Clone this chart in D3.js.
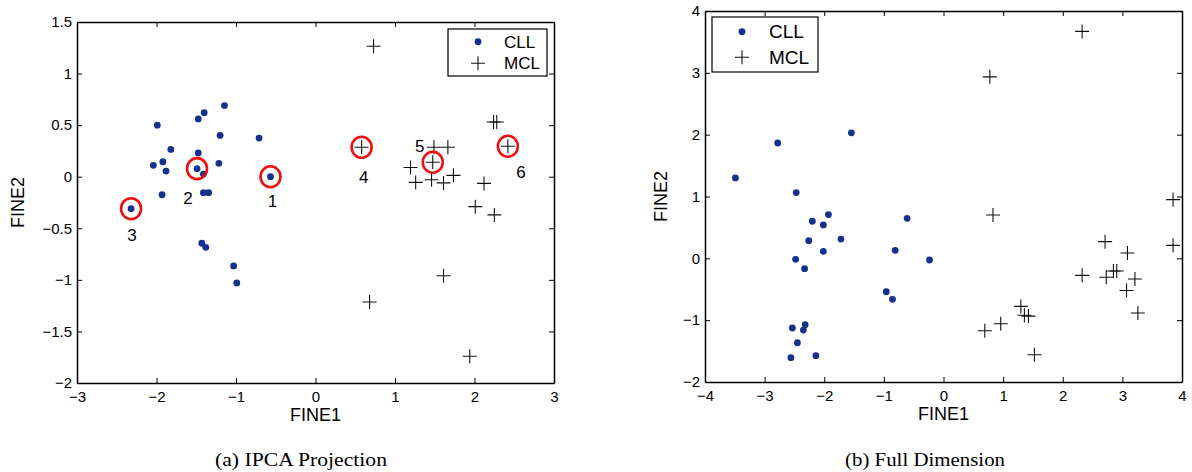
<!DOCTYPE html>
<html><head><meta charset="utf-8">
<script src="https://cdn.jsdelivr.net/npm/d3@7"></script>
<style>body{margin:0;background:#fff;}svg{display:block;}</style>
</head><body>
<svg id="chart" width="1192" height="472"></svg>
<script>
// ---- Data ----
// (a) IPCA Projection
const ipcaCLL_x = [-1.99,-1.145,-1.40,-1.475,-1.20,-0.71,-1.82,-1.475,-2.04,-1.92,-1.88,-1.215,-1.49,-1.41,-0.566,-1.93,-1.41,-1.345,-2.32,-1.43,-1.38,-1.03,-0.99];
const ipcaCLL_y = [0.50,0.69,0.62,0.56,0.40,0.375,0.265,0.23,0.11,0.145,0.055,0.13,0.078,0.026,0.0,-0.175,-0.155,-0.155,-0.31,-0.645,-0.685,-0.865,-1.03];
const ipcaMCL_x = [0.73,0.58,1.49,1.665,1.475,1.195,1.735,1.26,1.46,1.61,2.12,2.24,2.28,2.42,2.01,2.25,1.61,0.68,1.94];
const ipcaMCL_y = [1.265,0.285,0.285,0.285,0.14,0.09,0.013,-0.055,-0.03,-0.06,-0.065,0.53,0.53,0.295,-0.29,-0.37,-0.96,-1.215,-1.74];
// highlighted samples (circled) in panel (a)
const markLabels = ["1","2","3","4","5","6"];
const markX = [-0.566,-1.49,-2.32,0.58,1.475,2.42];
const markY = [0.0,0.078,-0.31,0.285,0.14,0.295];
// (b) Full Dimension
const fullCLL_x = [-3.49,-2.78,-1.545,-2.47,-2.20,-1.93,-2.015,-0.61,-2.26,-1.72,-2.015,-0.81,-2.48,-2.33,-0.96,-0.855,-2.32,-2.535,-2.35,-2.45,-2.14,-2.56,-0.234];
const fullCLL_y = [1.30,1.865,2.03,1.063,0.60,0.707,0.54,0.647,0.286,0.312,0.113,0.13,-0.016,-0.167,-0.54,-0.663,-1.073,-1.127,-1.16,-1.365,-1.575,-1.607,-0.027];
const fullMCL_x = [2.325,0.777,3.85,0.83,3.85,2.71,3.085,2.325,2.73,2.85,2.905,3.21,3.07,3.26,1.297,1.357,1.425,0.96,0.693,1.525];
const fullMCL_y = [3.67,2.935,0.95,0.70,0.21,0.27,0.086,-0.275,-0.307,-0.205,-0.205,-0.335,-0.52,-0.885,-0.777,-0.92,-0.934,-1.057,-1.17,-1.56];
// tick labels
const ipcaXTicks = [-3,-2,-1,0,1,2,3];
const ipcaYTicks = [-2,-1.5,-1,-0.5,0,0.5,1,1.5];
const fullXTicks = [-4,-3,-2,-1,0,1,2,3,4];
const fullYTicks = [-2,-1,0,1,2,3,4];
const seriesNames = ["CLL","MCL"];
const axisTitles = ["FINE1","FINE2"];
const captions = ["(a)  IPCA Projection","(b)  Full Dimension"];

// ---- layout (not data) ----
const labelOffsets = [[2,24],[-9,29],[1,26],[2,30],[-13,-16],[13,26]];

const svg = d3.select("#chart");
const blue = "#15318f";
const font = "'Liberation Sans', Arial, Helvetica, sans-serif";

function panel(cfg){
  const g = svg.append("g");
  const x = d3.scaleLinear().domain(cfg.xd).range([cfg.l, cfg.r]);
  const y = d3.scaleLinear().domain(cfg.yd).range([cfg.b, cfg.t]);
  const tl = 5;
  const fmt = d => (d<0 ? "\u2212"+String(Math.abs(d)) : String(d));
  const bottom = g.append("g").attr("transform",`translate(0,${cfg.b})`)
    .call(d3.axisBottom(x).tickValues(cfg.xt).tickSizeInner(-tl).tickSizeOuter(0).tickPadding(8).tickFormat(fmt));
  const top = g.append("g").attr("transform",`translate(0,${cfg.t})`)
    .call(d3.axisTop(x).tickValues(cfg.xt).tickSizeInner(-tl).tickSizeOuter(0).tickFormat(""));
  const left = g.append("g").attr("transform",`translate(${cfg.l},0)`)
    .call(d3.axisLeft(y).tickValues(cfg.yt).tickSizeInner(-tl).tickSizeOuter(0).tickPadding(5).tickFormat(fmt));
  const right = g.append("g").attr("transform",`translate(${cfg.r},0)`)
    .call(d3.axisRight(y).tickValues(cfg.yt).tickSizeInner(-tl).tickSizeOuter(0).tickFormat(""));
  [bottom,top,left,right].forEach(a=>{
    a.selectAll("path.domain").attr("stroke","#000").attr("stroke-width",1.5);
    a.selectAll(".tick line").attr("stroke","#000").attr("stroke-width",1);
    a.selectAll("text").attr("font-family",font).attr("font-size",cfg.fs).attr("fill","#000");
  });
  bottom.selectAll("text").attr("dy","0.71em");
  g.append("text").attr("x",(cfg.l+cfg.r)/2).attr("y",cfg.b+38).attr("text-anchor","middle")
    .attr("font-family",font).attr("font-size",cfg.fs+3).text(axisTitles[0]);
  g.append("text").attr("transform",`translate(${cfg.yl},${(cfg.t+cfg.b)/2}) rotate(-90)`)
    .attr("text-anchor","middle").attr("font-family",font).attr("font-size",cfg.fs+3).text(axisTitles[1]);
  // caption
  g.append("text").attr("x",cfg.capX).attr("y",466).attr("text-anchor","middle")
    .attr("font-family","'Liberation Serif','Times New Roman',serif").attr("font-size",18)
    .attr("textLength",cfg.capW).attr("lengthAdjust","spacingAndGlyphs").text(cfg.cap);
  const cll = d3.range(cfg.cx.length).map(i=>[cfg.cx[i],cfg.cy[i]]);
  const mcl = d3.range(cfg.mx.length).map(i=>[cfg.mx[i],cfg.my[i]]);
  g.append("g").selectAll("circle").data(cll).join("circle")
    .attr("cx",d=>x(d[0])).attr("cy",d=>y(d[1])).attr("r",3.4).attr("fill",blue);
  const ps = 7;
  g.append("g").selectAll("path").data(mcl).join("path")
    .attr("d",d=>{const px=x(d[0]),py=y(d[1]);return `M${px-ps},${py}H${px+ps}M${px},${py-ps}V${py+ps}`;})
    .attr("stroke","#111").attr("stroke-width",1.1).attr("fill","none");
  const L = cfg.leg;
  g.append("rect").attr("x",L.x).attr("y",L.y).attr("width",L.w).attr("height",L.h)
    .attr("fill","#fff").attr("stroke","#000").attr("stroke-width",1.2);
  const rowH = L.h/2;
  g.append("circle").attr("cx",L.x+L.mx).attr("cy",L.y+rowH*0.5+1).attr("r",3.4).attr("fill",blue);
  const lx=L.x+L.mx, ly=L.y+rowH*1.5-1;
  g.append("path").attr("d",`M${lx-ps},${ly}H${lx+ps}M${lx},${ly-ps}V${ly+ps}`).attr("stroke","#111").attr("stroke-width",1.1);
  seriesNames.forEach((n,i)=>{
    g.append("text").attr("x",L.x+L.tx).attr("y",L.y+rowH*(i+0.5)+(i?-1:1)).attr("dy","0.35em")
      .attr("font-family",font).attr("font-size",L.fs).text(n);
  });
  return {g,x,y};
}

const A = panel({l:77,r:554,t:22,b:383,xd:[-3,3],yd:[-2,1.5],xt:ipcaXTicks,yt:ipcaYTicks,fs:15,yl:24,
  cx:ipcaCLL_x,cy:ipcaCLL_y,mx:ipcaMCL_x,my:ipcaMCL_y,cap:captions[0],capX:301,capW:172,
  leg:{x:448,y:29,w:99,h:47,mx:30,tx:56,fs:17}});
const B = panel({l:705,r:1182,t:11,b:382,xd:[-4,4],yd:[-2,4],xt:fullXTicks,yt:fullYTicks,fs:15,yl:667,
  cx:fullCLL_x,cy:fullCLL_y,mx:fullMCL_x,my:fullMCL_y,cap:captions[1],capX:925,capW:160,
  leg:{x:712,y:17,w:106,h:55,mx:30,tx:57,fs:19}});

const marks = d3.range(markX.length).map(i=>({x:markX[i],y:markY[i],lab:markLabels[i],o:labelOffsets[i]}));
A.g.append("g").selectAll("ellipse").data(marks).join("ellipse")
  .attr("cx",d=>A.x(d.x)).attr("cy",d=>A.y(d.y)).attr("rx",10).attr("ry",10.5)
  .attr("fill","none").attr("stroke","#ee1111").attr("stroke-width",2.6);
A.g.append("g").selectAll("text").data(marks).join("text")
  .attr("x",d=>A.x(d.x)+d.o[0]).attr("y",d=>A.y(d.y)+d.o[1]).attr("text-anchor","middle").attr("dy","0.35em")
  .attr("font-family",font).attr("font-size",17).text(d=>d.lab);
</script>
</body></html>
